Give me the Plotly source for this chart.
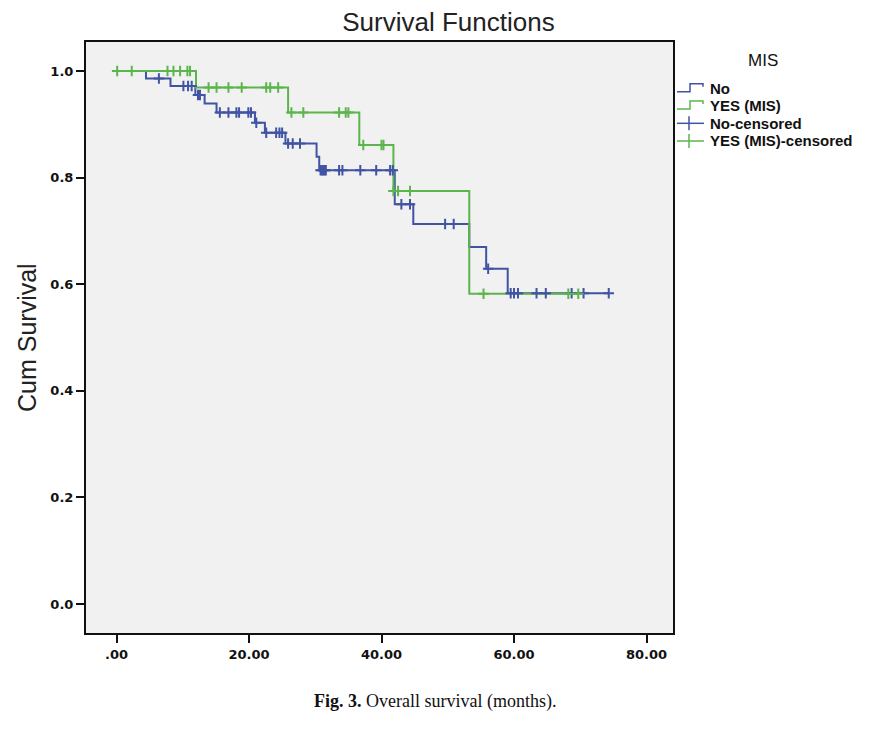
import numpy as np
import plotly.graph_objects as go

# ---------------- data ----------------
blue_event_t = [4.45, 8.15, 11.9, 13.3, 15.1, 20.9, 22.4, 25.5, 30.2, 30.6,
                42.0, 44.8, 53.25, 55.8, 59.05]
blue_surv = [0.986, 0.972, 0.955, 0.939, 0.922, 0.903, 0.884, 0.864, 0.839,
             0.814, 0.750, 0.713, 0.670, 0.629, 0.583]
blue_censor_t = [6.4, 10.1, 10.8, 11.35, 12.3, 12.6, 15.6, 16.9, 18.1, 18.5,
                 19.9, 20.3, 21.1, 22.6, 24.1, 24.6, 25.0, 25.9, 26.6, 27.7,
                 30.8, 31.0, 31.2, 31.4, 31.6, 33.6, 34.1, 36.8, 39.2, 41.3,
                 41.7, 43.0, 44.3, 49.6, 50.9, 56.1, 59.5, 60.0, 60.6, 63.4,
                 64.8, 68.7, 70.5, 74.3]

green_event_t = [12.0, 25.9, 36.65, 41.8, 53.25]
green_surv = [0.969, 0.922, 0.861, 0.775, 0.582]
green_censor_t = [0.1, 2.3, 7.7, 8.6, 9.6, 10.7, 11.1, 13.9, 15.1, 16.9, 18.9,
                  22.6, 23.2, 24.4, 26.4, 28.2, 33.6, 34.6, 35.0, 37.25, 40.0,
                  40.3, 41.8, 42.5, 44.3, 55.4, 68.2, 69.7]

x_tickvals = [0, 20, 40, 60, 80]
x_ticktext = [".00", "20.00", "40.00", "60.00", "80.00"]
y_tickvals = [0.0, 0.2, 0.4, 0.6, 0.8, 1.0]

BLUE = "#4153a4"
GREEN = "#5cb54c"

W, H = 874, 734
ML, MR, MT, MB = 86, 201, 42, 101
PW, PH = W - ML - MR, H - MT - MB


def step_xy(ev_t, surv, censor_t):
    end = max(max(censor_t), max(ev_t))
    xs = [0.0] + list(ev_t) + [end]
    ys = [1.0] + list(surv) + [surv[-1]]
    return xs, ys


def surv_at(ev_t, surv, t):
    ev = np.asarray(ev_t)
    s = np.concatenate([[1.0], np.asarray(surv)])
    idx = np.searchsorted(ev, np.asarray(t), side="right")
    return s[idx]


fig = go.Figure()

bx, by = step_xy(blue_event_t, blue_surv, blue_censor_t)
gx, gy = step_xy(green_event_t, green_surv, green_censor_t)

fig.add_trace(go.Scatter(x=bx, y=by, mode="lines", line=dict(color=BLUE, width=2, shape="hv"),
                         name="No", showlegend=False, hoverinfo="skip"))
fig.add_trace(go.Scatter(x=gx, y=gy, mode="lines", line=dict(color=GREEN, width=2, shape="hv"),
                         name="YES (MIS)", showlegend=False, hoverinfo="skip"))
fig.add_trace(go.Scatter(x=blue_censor_t, y=surv_at(blue_event_t, blue_surv, blue_censor_t),
                         mode="markers", name="No-censored", showlegend=False,
                         marker=dict(symbol="cross-thin", size=7.5, line=dict(color=BLUE, width=2))))
fig.add_trace(go.Scatter(x=green_censor_t, y=surv_at(green_event_t, green_surv, green_censor_t),
                         mode="markers", name="YES (MIS)-censored", showlegend=False,
                         marker=dict(symbol="cross-thin", size=7.5, line=dict(color=GREEN, width=2))))


def px(xp):
    return (xp - ML) / PW


def py(yp):
    return (H - MB - yp) / PH


annotations = []
shapes = []

# legend title
annotations.append(dict(x=px(763), y=py(61), xref="paper", yref="paper", text="MIS",
                        showarrow=False, xanchor="center", yanchor="middle",
                        font=dict(family="Liberation Sans", size=17, color="#111")))
leg_items = [("No", BLUE, "step", 88.3), ("YES (MIS)", GREEN, "step", 105.5),
             ("No-censored", BLUE, "cross", 123.3), ("YES (MIS)-censored", GREEN, "cross", 141)]
for label, col, kind, yc in leg_items:
    annotations.append(dict(x=px(708), y=py(yc), xref="paper", yref="paper", text="<b>%s</b>" % label,
                            showarrow=False, xanchor="left", yanchor="middle",
                            font=dict(family="Liberation Sans", size=15, color="#111")))
    if kind == "step":
        path = "M %f %f L %f %f L %f %f L %f %f L %f %f" % (
            px(677), py(yc + 3.5), px(690), py(yc + 3.5), px(690), py(yc - 4.5),
            px(703), py(yc - 4.5), px(703), py(yc - 1.5))
        shapes.append(dict(type="path", xref="paper", yref="paper", path=path,
                           line=dict(color=col, width=1.5)))
    else:
        shapes.append(dict(type="line", xref="paper", yref="paper", x0=px(677), x1=px(704),
                           y0=py(yc), y1=py(yc), line=dict(color=col, width=1.5)))
        shapes.append(dict(type="line", xref="paper", yref="paper", x0=px(689), x1=px(689),
                           y0=py(yc - 7), y1=py(yc + 7), line=dict(color=col, width=1.5)))

# y axis title
annotations.append(dict(x=px(27), y=py(338), xref="paper", yref="paper", text="Cum Survival",
                        showarrow=False, textangle=-90, xanchor="center", yanchor="middle",
                        font=dict(family="Liberation Sans", size=25, color="#222")))
# caption
annotations.append(dict(x=px(435), y=py(701), xref="paper", yref="paper",
                        text="<b>Fig. 3.</b> Overall survival (months).",
                        showarrow=False, xanchor="center", yanchor="middle",
                        font=dict(family="Liberation Serif", size=18, color="#111")))

fig.update_layout(
    width=W, height=H,
    margin=dict(l=ML, r=MR, t=MT, b=MB),
    paper_bgcolor="white",
    plot_bgcolor="#f1f1f1",
    title=dict(text="Survival Functions", x=448.5 / W, xref="container", xanchor="center",
               y=1 - 22 / H, yref="container", yanchor="middle",
               font=dict(family="Liberation Sans", size=26, color="#222")),
    annotations=annotations,
    shapes=shapes,
    showlegend=False,
)

x0 = (ML - 116.5) / 6.625
x1 = (W - MR - 116.5) / 6.625
fig.update_xaxes(range=[x0, x1], tickvals=x_tickvals, ticktext=x_ticktext,
                 showgrid=False, zeroline=False, showline=True, mirror=True,
                 linecolor="#111", linewidth=2, ticks="outside", ticklen=8, tickwidth=2,
                 tickcolor="#111",
                 tickfont=dict(family="DejaVu Sans", size=13, color="#111", weight="bold"))
fig.update_yaxes(range=[-0.0544, 1.0544], tickvals=y_tickvals, tickformat=".1f",
                 showgrid=False, zeroline=False, showline=True, mirror=True,
                 linecolor="#111", linewidth=2, ticks="outside", ticklen=8, tickwidth=2,
                 tickcolor="#111",
                 tickfont=dict(family="DejaVu Sans", size=13, color="#111", weight="bold"))

fig.write_html("out.html", config={"displayModeBar": False},
               post_script="document.body.style.margin='0';")
